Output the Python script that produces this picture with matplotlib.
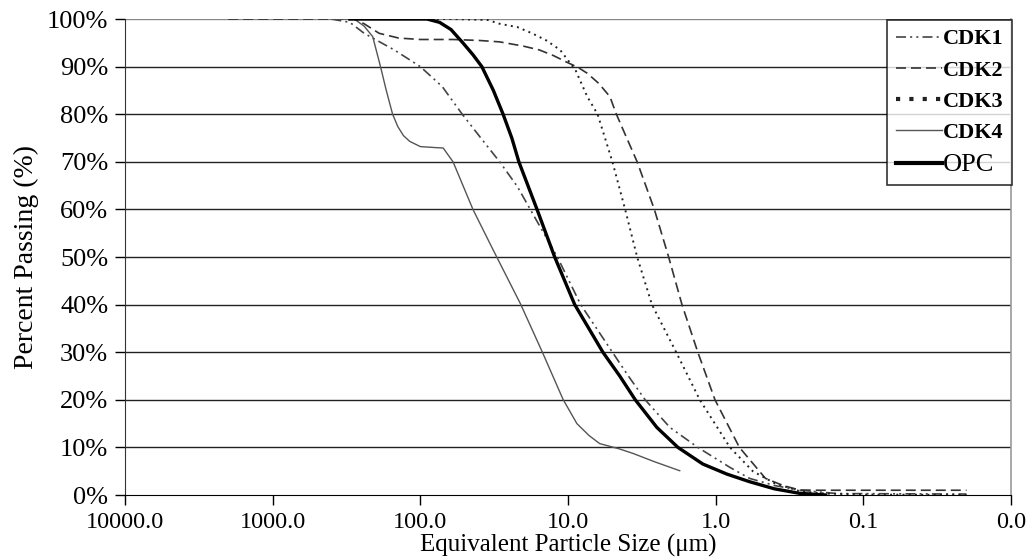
import matplotlib
matplotlib.use("Agg")
import matplotlib.pyplot as plt
from matplotlib.ticker import FixedLocator, FuncFormatter, PercentFormatter

plt.rcParams['font.family'] = ['Liberation Serif', 'DejaVu Serif']

# Particle size distributions: size (um) vs cumulative percent passing
cdk1_size = [400, 300, 240, 150, 100, 71, 52, 38, 29, 22, 18, 11.8, 8.2, 5.0,
             3.9, 3.0, 2.04, 1.32, 0.8, 0.59, 0.4, 0.27, 0.15, 0.02]
cdk1_pct = [100, 99.3, 97, 93.5, 90, 85.8, 80, 74.6, 70, 64.8, 60, 50, 40, 30,
            25, 20, 14.2, 10, 5.8, 3.5, 2, 1, 0.3, 0.2]

cdk2_size = [2000, 280, 240, 190, 140, 100, 60, 40, 29, 20, 15.6, 12.5, 10.3,
             8.5, 7.4, 6.2, 5.2, 4.7, 4.0, 3.4, 2.6, 2.08, 1.69, 1.32, 1.01,
             0.69, 0.46, 0.35, 0.27, 0.2, 0.02]
cdk2_pct = [100, 100, 99, 97, 96, 95.7, 95.7, 95.5, 95.2, 94.3, 93.5, 92.3, 91,
            89.8, 88.6, 86.5, 83.7, 80, 75, 70, 60, 50, 40, 30, 20,
            10, 3.5, 2, 1.05, 1, 1]

cdk3_size = [300, 60, 35, 29, 22, 17.5, 14, 11.3, 8.9, 7.4, 6.3, 5.0, 4.1, 3.4,
             2.7, 1.85, 1.28, 0.8, 0.56, 0.4, 0.27, 0.18, 0.1, 0.02]
cdk3_pct = [100, 100, 99.8, 99, 98.3, 97, 95.5, 93.5, 89.3, 83.7, 80, 70, 60, 50,
            40, 30, 20, 10, 5, 2.5, 0.8, 0.3, 0.1, 0]

cdk4_size = [400, 280, 240, 210, 186, 170, 154, 142, 130, 118, 100, 80, 70, 60,
             44, 32, 21, 14.9, 10.8, 8.7, 7.2, 6.1, 4.5, 3.6, 2.6, 1.75]
cdk4_pct = [100, 100, 98.5, 96.3, 90, 85, 80, 77.4, 75.5, 74.3, 73.2, 73, 72.9, 70,
            60, 51.4, 40.2, 30, 20.1, 15, 12.5, 10.8, 9.7, 8.7, 7, 5.1]

opc_size = [300, 90, 74, 62, 51.5, 44, 38.3, 32, 27.5, 24, 21.5, 16.2, 12.3, 9.0,
            5.8, 4.46, 3.5, 2.5, 1.8, 1.22, 0.84, 0.59, 0.4, 0.27, 0.18]
opc_pct = [100, 100, 99.3, 97.8, 95, 92.5, 90, 85, 80, 75, 70, 60, 50, 40,
           30, 25, 20, 14.2, 10, 6.5, 4.4, 2.8, 1.3, 0.35, 0]

x_ticks = [10000, 1000, 100, 10, 1, 0.1, 0.01]
y_ticks = [0, 10, 20, 30, 40, 50, 60, 70, 80, 90, 100]

fig = plt.figure(figsize=(10.32, 5.58), dpi=100)
ax = fig.add_axes([0.1211, 0.1129, 0.8585, 0.853])

ax.plot(cdk1_size, cdk1_pct, color='#444444', lw=1.2,
        linestyle=(0, (6, 2.5, 1.2, 2.5, 1.2, 2.5)), label='CDK1')
ax.plot(cdk2_size, cdk2_pct, color='#333333', lw=1.2,
        linestyle=(0, (6, 3)), label='CDK2')
ax.plot(cdk3_size, cdk3_pct, color='#222222', lw=1.4,
        linestyle=(0, (1, 2.2)), label='CDK3')
ax.plot(cdk4_size, cdk4_pct, color='#555555', lw=1.0, label='CDK4')
ax.plot(opc_size, opc_pct, color='black', lw=2.4, label='OPC')

ax.set_xscale('log')
ax.set_xlim(10000, 0.01)
ax.set_ylim(0, 100)
ax.xaxis.set_major_locator(FixedLocator(x_ticks))
ax.xaxis.set_minor_locator(FixedLocator([]))
ax.xaxis.set_major_formatter(FuncFormatter(lambda v, p: f"{v:.1f}"))
ax.yaxis.set_major_locator(FixedLocator(y_ticks))
ax.yaxis.set_major_formatter(PercentFormatter(decimals=0))

for y in y_ticks[1:]:
    ax.axhline(y, color='#888888' if y == 100 else '#222222', lw=1.0, zorder=0)

ax.spines['top'].set_visible(False)
ax.spines['right'].set_color('#999999')
ax.spines['right'].set_linewidth(1.2)
ax.spines['left'].set_color('#333333')
ax.spines['bottom'].set_color('black')
ax.tick_params(axis='both', which='major', direction='out', length=7,
               width=1.0, colors='black')
ax.tick_params(axis='x', pad=5, labelsize=17.5)
ax.tick_params(axis='y', pad=5, labelsize=19)

ax.set_xlabel('Equivalent Particle Size (\u03bcm)', fontsize=18)
ax.xaxis.set_label_coords(0.5, -0.082)
ax.set_ylabel('Percent Passing (%)', fontsize=20, labelpad=6)

leg = ax.legend(loc='upper right', bbox_to_anchor=(1012 / 1032, 1 - 20 / 558),
                bbox_transform=fig.transFigure, frameon=True, fancybox=False,
                fontsize=16, handlelength=2.1, handletextpad=0.0,
                borderpad=0.4, labelspacing=0.48, borderaxespad=0)
leg.get_frame().set_edgecolor('black')
leg.get_frame().set_linewidth(1.2)
for txt in leg.get_texts()[:4]:
    txt.set_fontweight('bold')
leg.get_texts()[4].set_fontsize(19)
leg.get_lines()[2].set_linewidth(3.0)
leg.get_lines()[4].set_linewidth(3.0)

fig.savefig('out.png', dpi=100)
